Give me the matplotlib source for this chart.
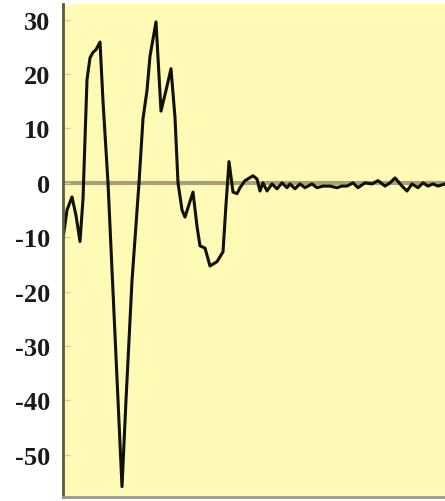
import matplotlib
matplotlib.use("Agg")
import matplotlib.pyplot as plt

plt.rcParams['axes.unicode_minus'] = False

# Sample positions (time) and signal values
t = [0, 4, 9, 13, 17, 20, 24, 27, 30, 33, 37, 40, 45, 52, 59, 63, 69, 76, 80,
     84, 87, 93, 98, 103, 108, 112, 115, 119, 122, 126, 130, 134, 137, 142, 147,
     154, 160, 163, 166, 170, 174, 177, 182, 190, 194, 197, 200, 204, 209, 214,
     219, 224, 227, 232, 237, 242, 249, 254, 260, 267, 274, 279, 284, 290, 295,
     302, 309, 315, 322, 327, 332, 339, 344, 349, 355, 360, 365, 370, 375, 382]
signal = [-10.3, -5.0, -2.6, -6.0, -10.8, -3.0, 19.0, 23.0, 24.0, 24.5, 25.9,
          15.0, 0.0, -28.0, -55.9, -40.0, -18.0, 0.0, 11.8, 17.0, 23.3, 29.6,
          13.2, 17.0, 21.0, 12.0, 0.0, -5.0, -6.3, -4.0, -1.7, -8.0, -11.6,
          -12.0, -15.3, -14.5, -12.7, -4.0, 3.9, -1.7, -2.0, -0.9, 0.4, 1.3,
          0.7, -1.5, 0.0, -1.5, -0.2, -1.1, 0.0, -0.9, -0.2, -1.1, -0.2, -0.9,
          -0.2, -0.9, -0.6, -0.6, -0.9, -0.6, -0.6, 0.0, -0.9, 0.0, -0.2, 0.4,
          -0.6, 0.0, 0.9, -0.6, -1.5, -0.2, -0.9, 0.0, -0.6, -0.2, -0.6, -0.2]
yticks = [30, 20, 10, 0, -10, -20, -30, -40, -50]

fig = plt.figure(figsize=(4.45, 5.02), dpi=100)
ax = fig.add_axes([63 / 445, 4 / 502, 382 / 445, 493 / 502])
ax.set_facecolor('#fffbb6')

ax.axhline(0, color='#a8a27c', lw=3, zorder=1)
ax.plot(t, signal, color='#111100', lw=2.2, zorder=2, solid_joinstyle='round')

ax.set_xlim(0, 382)
ax.set_ylim(-57.8, 32.9)
ax.set_xticks([])
ax.set_yticks(yticks)
ax.set_yticklabels([str(v) for v in yticks], fontfamily='Liberation Serif',
                   fontweight='bold', fontsize=19, color='#1a1a1a')
ax.tick_params(axis='y', direction='in', length=5, width=1, color='#d0cca0', pad=9)

for side in ('top', 'right'):
    ax.spines[side].set_visible(False)
ax.spines['left'].set_color('#5e5a3c')
ax.spines['left'].set_linewidth(2)
ax.spines['bottom'].set_color('#9a9888')
ax.spines['bottom'].set_linewidth(2)

fig.savefig('out.png', dpi=100)
